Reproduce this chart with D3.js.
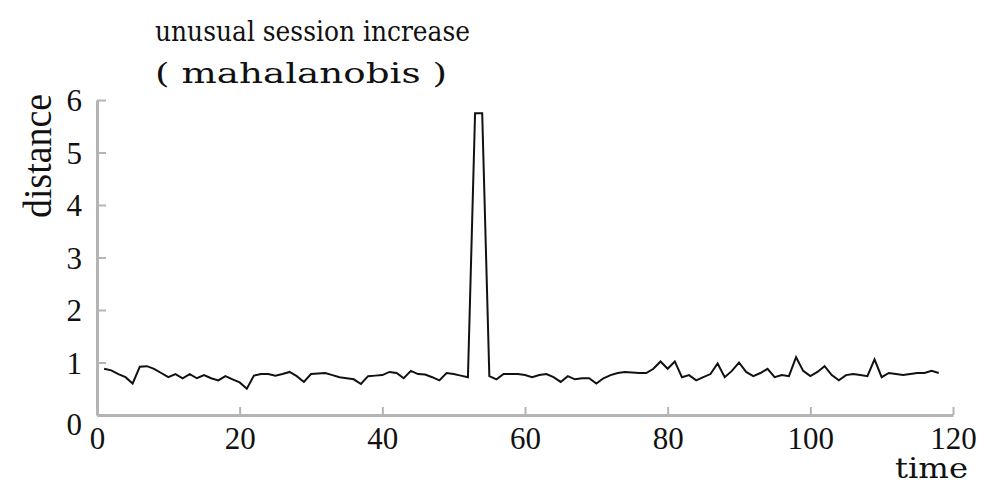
<!DOCTYPE html>
<html>
<head>
<meta charset="utf-8">
<script src="https://cdn.jsdelivr.net/npm/d3@7"></script>
<style>
  html, body { margin: 0; padding: 0; background: #fff; }
  svg { display: block; }
  text { font-family: "Liberation Serif", "DejaVu Serif", serif; fill: #111; }
</style>
</head>
<body>
<svg id="chart" width="984" height="488"></svg>
<script>
// ---- data ----
const times = d3.range(1, 119);
const distance = [
  0.88, 0.85, 0.78, 0.72, 0.60, 0.92, 0.93, 0.88, 0.80, 0.72,
  0.78, 0.70, 0.78, 0.70, 0.76, 0.70, 0.66, 0.74, 0.68, 0.62,
  0.50, 0.75, 0.78, 0.78, 0.75, 0.78, 0.82, 0.74, 0.63, 0.78,
  0.79, 0.80, 0.76, 0.72, 0.70, 0.68, 0.59, 0.74, 0.75, 0.76,
  0.82, 0.80, 0.70, 0.84, 0.78, 0.77, 0.72, 0.66, 0.80, 0.78,
  0.75, 0.72, 5.75, 5.75, 0.74, 0.68, 0.78, 0.78, 0.78, 0.76,
  0.72, 0.76, 0.78, 0.72, 0.63, 0.74, 0.68, 0.70, 0.70, 0.60,
  0.70, 0.76, 0.80, 0.82, 0.81, 0.80, 0.80, 0.88, 1.02, 0.88,
  1.02, 0.72, 0.76, 0.66, 0.72, 0.78, 0.98, 0.72, 0.84, 1.00,
  0.82, 0.74, 0.80, 0.88, 0.72, 0.76, 0.74, 1.10, 0.84, 0.74,
  0.82, 0.93, 0.76, 0.66, 0.76, 0.78, 0.76, 0.74, 1.06, 0.72,
  0.80, 0.78, 0.76, 0.78, 0.80, 0.80, 0.84, 0.80
];
const xTicks = [0, 20, 40, 60, 80, 100, 120];
const yTicks = [0, 1, 2, 3, 4, 5, 6];
const titleLines = ["unusual session increase", "( mahalanobis )"];
const xLabel = "time";
const yLabel = "distance";

// ---- chart ----
const svg = d3.select("#chart");
const x = d3.scaleLinear().domain([0, 120]).range([97, 953]);
const y = d3.scaleLinear().domain([0, 6]).range([415, 100]);
const axisColor = "#b4b4b4";
const fmt = d3.format("d");

const gx = svg.append("g").attr("transform", `translate(0,${y(0)})`)
  .call(d3.axisBottom(x).tickValues(xTicks).tickFormat(fmt)
    .tickSizeInner(-8).tickSizeOuter(0).tickPadding(12));
const gy = svg.append("g").attr("transform", `translate(${x(0)},0)`)
  .call(d3.axisLeft(y).tickValues(yTicks).tickFormat(fmt)
    .tickSizeInner(-9).tickSizeOuter(0).tickPadding(15));

[gx, gy].forEach(g => {
  g.select(".domain").attr("stroke", axisColor).attr("stroke-width", 3);
  g.selectAll(".tick line").attr("stroke", axisColor).attr("stroke-width", 2);
  g.selectAll(".tick text")
    .style("font-family", '"Liberation Serif", "DejaVu Serif", serif')
    .style("font-size", "31px").attr("fill", "#111");
});
gy.selectAll(".tick text").attr("dy", d => d === 0 ? "0.62em" : "0.34em");
gx.selectAll(".tick text").attr("dy", "0.71em");

const line = d3.line().x((d, i) => x(times[i])).y(d => y(d));
svg.append("path").datum(distance)
  .attr("d", line).attr("fill", "none")
  .attr("stroke", "#111").attr("stroke-width", 2).attr("stroke-linejoin", "miter");

// titles & labels
svg.append("text").attr("x", 155).attr("y", 41)
  .attr("textLength", 315).attr("lengthAdjust", "spacingAndGlyphs")
  .style("font-family", '"DejaVu Serif", serif')
  .style("font-size", "27px").text(titleLines[0]);
svg.append("text").attr("x", 155).attr("y", 83)
  .attr("textLength", 292).attr("lengthAdjust", "spacingAndGlyphs")
  .style("font-family", '"DejaVu Serif", serif')
  .style("font-size", "27px").text(titleLines[1]);
svg.append("text").attr("x", 895).attr("y", 478)
  .attr("textLength", 73).attr("lengthAdjust", "spacingAndGlyphs")
  .style("font-family", '"DejaVu Serif", serif')
  .style("font-size", "28px").text(xLabel);
svg.append("text").attr("transform", "translate(51,218) rotate(-90)")
  .attr("textLength", 124).attr("lengthAdjust", "spacingAndGlyphs")
  .style("font-size", "40px").text(yLabel);
</script>
</body>
</html>
